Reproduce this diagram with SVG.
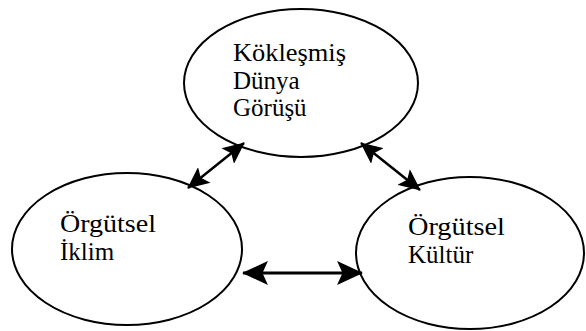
<svg xmlns="http://www.w3.org/2000/svg" width="586" height="331" viewBox="0 0 586 331">
<defs>
<marker id="ah" markerUnits="userSpaceOnUse" markerWidth="26" markerHeight="24" viewBox="0 0 24 22" refX="23" refY="11" orient="auto-start-reverse">
<path d="M0,0 L24,11 L0,22 L5,11 Z" fill="#000"/>
</marker>
<marker id="ahs" markerUnits="userSpaceOnUse" markerWidth="22" markerHeight="20" viewBox="0 0 24 22" refX="23" refY="11" orient="auto-start-reverse">
<path d="M0,0 L24,11 L0,22 L5,11 Z" fill="#000"/>
</marker>
<style>
.n{fill:none;stroke:#000;stroke-width:2}
.c{stroke:#000;fill:none}
</style>
</defs>
<rect width="586" height="331" fill="#fff"/>
<g id="connectors">
<line class="c" x1="188" y1="188" x2="244" y2="143" stroke-width="2.5" marker-start="url(#ahs)" marker-end="url(#ahs)"/>
<line class="c" x1="361" y1="143" x2="420" y2="190" stroke-width="2.5" marker-start="url(#ahs)" marker-end="url(#ahs)"/>
<line class="c" x1="243" y1="273" x2="362" y2="273" stroke-width="3" marker-start="url(#ah)" marker-end="url(#ah)"/>
</g>
<g font-family="'Liberation Serif', 'DejaVu Serif', 'Times New Roman', serif" font-size="25" fill="#000">
<g id="node-top">
<ellipse class="n" cx="301" cy="83" rx="117" ry="74"/>
<text x="233" y="61" textLength="113" lengthAdjust="spacingAndGlyphs">Kökleşmiş</text>
<text x="233" y="89">Dünya</text>
<text x="233" y="116">Görüşü</text>
</g>
<g id="node-left">
<ellipse class="n" cx="127" cy="249" rx="115" ry="76"/>
<text x="60" y="232" textLength="96" lengthAdjust="spacingAndGlyphs">Örgütsel</text>
<text x="60" y="260">İklim</text>
</g>
<g id="node-right">
<ellipse class="n" cx="470" cy="253" rx="114" ry="76"/>
<text x="408" y="235" textLength="97" lengthAdjust="spacingAndGlyphs">Örgütsel</text>
<text x="408" y="263">Kültür</text>
</g>
</g>
</svg>
